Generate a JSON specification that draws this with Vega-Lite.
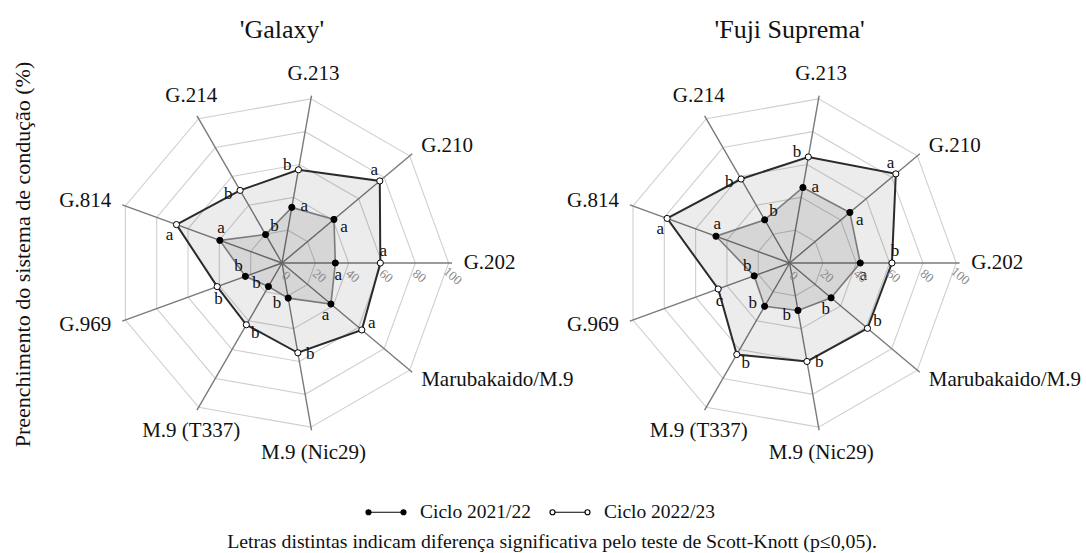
{
  "$schema": "https://vega.github.io/schema/vega-lite/v6.json",
  "padding": {"left": 11, "top": 17, "right": 5, "bottom": 5},
  "bounds": "flush",
  "background": "white",
  "data": {"values": [
    {"cultivar": "'Galaxy'", "ciclo": "Ciclo 2021/22", "cat": "G.202", "value": 32.0, "letter": "a"},
    {"cultivar": "'Galaxy'", "ciclo": "Ciclo 2021/22", "cat": "G.210", "value": 40.7, "letter": "a"},
    {"cultivar": "'Galaxy'", "ciclo": "Ciclo 2021/22", "cat": "G.213", "value": 33.9, "letter": "a"},
    {"cultivar": "'Galaxy'", "ciclo": "Ciclo 2021/22", "cat": "G.214", "value": 19.7, "letter": "b"},
    {"cultivar": "'Galaxy'", "ciclo": "Ciclo 2021/22", "cat": "G.814", "value": 39.7, "letter": "a"},
    {"cultivar": "'Galaxy'", "ciclo": "Ciclo 2021/22", "cat": "G.969", "value": 23.4, "letter": "b"},
    {"cultivar": "'Galaxy'", "ciclo": "Ciclo 2021/22", "cat": "M.9 (T337)", "value": 16.3, "letter": "b"},
    {"cultivar": "'Galaxy'", "ciclo": "Ciclo 2021/22", "cat": "M.9 (Nic29)", "value": 21.4, "letter": "b"},
    {"cultivar": "'Galaxy'", "ciclo": "Ciclo 2021/22", "cat": "Marubakaido/M.9", "value": 38.3, "letter": "a"},
    {"cultivar": "'Galaxy'", "ciclo": "Ciclo 2022/23", "cat": "G.202", "value": 59.0, "letter": "a"},
    {"cultivar": "'Galaxy'", "ciclo": "Ciclo 2022/23", "cat": "G.210", "value": 76.6, "letter": "a"},
    {"cultivar": "'Galaxy'", "ciclo": "Ciclo 2022/23", "cat": "G.213", "value": 56.8, "letter": "b"},
    {"cultivar": "'Galaxy'", "ciclo": "Ciclo 2022/23", "cat": "G.214", "value": 50.3, "letter": "b"},
    {"cultivar": "'Galaxy'", "ciclo": "Ciclo 2022/23", "cat": "G.814", "value": 67.4, "letter": "a"},
    {"cultivar": "'Galaxy'", "ciclo": "Ciclo 2022/23", "cat": "G.969", "value": 41.4, "letter": "b"},
    {"cultivar": "'Galaxy'", "ciclo": "Ciclo 2022/23", "cat": "M.9 (T337)", "value": 42.8, "letter": "b"},
    {"cultivar": "'Galaxy'", "ciclo": "Ciclo 2022/23", "cat": "M.9 (Nic29)", "value": 54.7, "letter": "b"},
    {"cultivar": "'Galaxy'", "ciclo": "Ciclo 2022/23", "cat": "Marubakaido/M.9", "value": 62.5, "letter": "a"},
    {"cultivar": "'Fuji Suprema'", "ciclo": "Ciclo 2021/22", "cat": "G.202", "value": 42.4, "letter": "a"},
    {"cultivar": "'Fuji Suprema'", "ciclo": "Ciclo 2021/22", "cat": "G.210", "value": 47.2, "letter": "a"},
    {"cultivar": "'Fuji Suprema'", "ciclo": "Ciclo 2021/22", "cat": "G.213", "value": 46.0, "letter": "a"},
    {"cultivar": "'Fuji Suprema'", "ciclo": "Ciclo 2021/22", "cat": "G.214", "value": 29.9, "letter": "b"},
    {"cultivar": "'Fuji Suprema'", "ciclo": "Ciclo 2021/22", "cat": "G.814", "value": 47.0, "letter": "a"},
    {"cultivar": "'Fuji Suprema'", "ciclo": "Ciclo 2021/22", "cat": "G.969", "value": 22.6, "letter": "b"},
    {"cultivar": "'Fuji Suprema'", "ciclo": "Ciclo 2021/22", "cat": "M.9 (T337)", "value": 30.0, "letter": "b"},
    {"cultivar": "'Fuji Suprema'", "ciclo": "Ciclo 2021/22", "cat": "M.9 (Nic29)", "value": 28.9, "letter": "b"},
    {"cultivar": "'Fuji Suprema'", "ciclo": "Ciclo 2021/22", "cat": "Marubakaido/M.9", "value": 32.5, "letter": "b"},
    {"cultivar": "'Fuji Suprema'", "ciclo": "Ciclo 2022/23", "cat": "G.202", "value": 61.4, "letter": "b"},
    {"cultivar": "'Fuji Suprema'", "ciclo": "Ciclo 2022/23", "cat": "G.210", "value": 83.2, "letter": "a"},
    {"cultivar": "'Fuji Suprema'", "ciclo": "Ciclo 2022/23", "cat": "G.213", "value": 64.6, "letter": "b"},
    {"cultivar": "'Fuji Suprema'", "ciclo": "Ciclo 2022/23", "cat": "G.214", "value": 58.2, "letter": "b"},
    {"cultivar": "'Fuji Suprema'", "ciclo": "Ciclo 2022/23", "cat": "G.814", "value": 78.2, "letter": "a"},
    {"cultivar": "'Fuji Suprema'", "ciclo": "Ciclo 2022/23", "cat": "G.969", "value": 45.6, "letter": "c"},
    {"cultivar": "'Fuji Suprema'", "ciclo": "Ciclo 2022/23", "cat": "M.9 (T337)", "value": 63.4, "letter": "b"},
    {"cultivar": "'Fuji Suprema'", "ciclo": "Ciclo 2022/23", "cat": "M.9 (Nic29)", "value": 60.0, "letter": "b"},
    {"cultivar": "'Fuji Suprema'", "ciclo": "Ciclo 2022/23", "cat": "Marubakaido/M.9", "value": 61.0, "letter": "b"}
  ]},
  "transform": [
    {"calculate": "indexof(['G.202','G.210','G.213','G.214','G.814','G.969','M.9 (T337)','M.9 (Nic29)','Marubakaido/M.9'], datum.cat)", "as": "idx"},
    {"calculate": "datum.idx * 40 * PI / 180", "as": "ang"}
  ],
  "title": {"text": "Letras distintas indicam diferença significativa pelo teste de Scott-Knott (p≤0,05).", "orient": "bottom", "anchor": "middle", "font": "Liberation Serif", "fontSize": 19.8, "fontWeight": "normal", "color": "#111", "offset": 10, "dx": 6},
  "facet": {"column": {"field": "cultivar", "type": "nominal", "sort": ["'Galaxy'", "'Fuji Suprema'"], "header": {"title": null, "labelFont": "Liberation Serif", "labelFontSize": 26, "labelColor": "#111", "labelPadding": 20}}},
  "spacing": 107.6,
  "spec": {
    "width": 400,
    "height": 400,
    "encoding": {
      "x": {"field": "px", "type": "quantitative", "scale": {"domain": [-120, 120], "nice": false, "zero": false}, "axis": null},
      "y": {"field": "py", "type": "quantitative", "scale": {"domain": [-120, 120], "nice": false, "zero": false}, "title": "Preenchimento do sistema de condução (%)", "axis": {"labels": false, "ticks": false, "domain": false, "grid": false, "titleFont": "Liberation Serif", "titleFontSize": 22, "titleFontWeight": "normal", "titlePadding": 48, "titleColor": "#111", "titleY": 191}}
    },
    "layer": [
      {
        "transform": [
          {"filter": "datum.ciclo == 'Ciclo 2021/22'"},
          {"calculate": "[20, 40, 60, 80, 100]", "as": "lv"},
          {"flatten": ["lv"]},
          {"calculate": "datum.lv * cos(datum.ang)", "as": "px"},
          {"calculate": "datum.lv * sin(datum.ang)", "as": "py"}
        ],
        "mark": {"type": "line", "interpolate": "linear-closed", "stroke": "#cfcfcf", "strokeWidth": 1.1},
        "encoding": {"detail": {"field": "lv", "type": "nominal"}, "order": {"field": "idx", "type": "quantitative"}}
      },
      {
        "transform": [
          {"filter": "datum.ciclo == 'Ciclo 2021/22'"},
          {"calculate": "0", "as": "px"},
          {"calculate": "0", "as": "py"},
          {"calculate": "102 * cos(datum.ang)", "as": "px2"},
          {"calculate": "102 * sin(datum.ang)", "as": "py2"}
        ],
        "mark": {"type": "rule", "stroke": "#7a7a7a", "strokeWidth": 1.4},
        "encoding": {"x2": {"field": "px2"}, "y2": {"field": "py2"}}
      },
      {
        "transform": [
          {"filter": "datum.ciclo == 'Ciclo 2022/23'"},
          {"calculate": "datum.value * cos(datum.ang)", "as": "px"},
          {"calculate": "datum.value * sin(datum.ang)", "as": "py"}
        ],
        "mark": {"type": "line", "interpolate": "linear-closed", "fill": "#000000", "fillOpacity": 0.075, "stroke": "#2b2b2b", "strokeWidth": 2},
        "encoding": {"order": {"field": "idx", "type": "quantitative"}}
      },
      {
        "transform": [
          {"filter": "datum.ciclo == 'Ciclo 2021/22'"},
          {"calculate": "datum.value * cos(datum.ang)", "as": "px"},
          {"calculate": "datum.value * sin(datum.ang)", "as": "py"}
        ],
        "mark": {"type": "line", "interpolate": "linear-closed", "fill": "#000000", "fillOpacity": 0.09, "stroke": "#7a7a7a", "strokeWidth": 1.6},
        "encoding": {"order": {"field": "idx", "type": "quantitative"}}
      },
      {
        "transform": [
          {"calculate": "datum.value * cos(datum.ang)", "as": "px"},
          {"calculate": "datum.value * sin(datum.ang)", "as": "py"}
        ],
        "mark": {"type": "point", "filled": true, "size": 38, "stroke": "#000000", "strokeWidth": 1, "opacity": 1},
        "encoding": {
          "fill": {"field": "ciclo", "type": "nominal", "scale": {"domain": ["Ciclo 2021/22", "Ciclo 2022/23"], "range": ["#000000", "#ffffff"]},
            "legend": {"title": null, "orient": "none", "legendX": 283, "legendY": 428, "direction": "horizontal",
              "symbolType": "M-1,0a0.125,0.125 0 1,0 0.25,0a0.125,0.125 0 1,0 -0.25,0M-0.75,0L0.75,0M0.75,0a0.125,0.125 0 1,0 0.25,0a0.125,0.125 0 1,0 -0.25,0",
              "symbolSize": 1600, "symbolStrokeColor": "#000000", "symbolStrokeWidth": 1.2, "symbolOpacity": 1,
              "labelFont": "Liberation Serif", "labelFontSize": 19.5, "labelColor": "#111", "labelOffset": 13, "columnPadding": 15}}
        }
      },
      {
        "transform": [
          {"calculate": "datum.ciclo == 'Ciclo 2022/23' ? 1 : -1", "as": "s"},
          {"calculate": "(datum.value + 1.8) * cos(datum.ang) - datum.s * 7.2 * sin(datum.ang)", "as": "px"},
          {"calculate": "(datum.value + 1.8) * sin(datum.ang) + datum.s * 7.2 * cos(datum.ang)", "as": "py"}
        ],
        "mark": {"type": "text", "font": "Liberation Serif", "fontSize": 17, "color": "#111", "align": "center", "baseline": "middle"},
        "encoding": {"text": {"field": "letter"}}
      },
      {
        "transform": [
          {"filter": "datum.ciclo == 'Ciclo 2021/22'"},
          {"calculate": "109 * cos(datum.ang)", "as": "px"},
          {"calculate": "109 * sin(datum.ang)", "as": "py"}
        ],
        "mark": {"type": "text", "font": "Liberation Serif", "fontSize": 21, "color": "#111",
          "align": {"expr": "abs(cos(datum.ang)) < 0.6 ? 'center' : (cos(datum.ang) > 0 ? 'left' : 'right')"},
          "baseline": {"expr": "sin(datum.ang) > 0.7 ? 'bottom' : (sin(datum.ang) < -0.7 ? 'top' : 'middle')"}},
        "encoding": {"text": {"field": "cat"}}
      },
      {
        "transform": [
          {"filter": "datum.ciclo == 'Ciclo 2021/22' && datum.cat == 'G.202'"},
          {"calculate": "[0, 20, 40, 60, 80, 100]", "as": "lv"},
          {"flatten": ["lv"]},
          {"calculate": "datum.lv + 2.4", "as": "px"},
          {"calculate": "-7.8", "as": "py"}
        ],
        "mark": {"type": "text", "font": "Liberation Serif", "fontSize": 13, "color": "#8a8a8a", "angle": 40, "align": "center", "baseline": "middle"},
        "encoding": {"text": {"field": "lv", "type": "quantitative"}}
      }
    ]
  },
  "config": {"view": {"stroke": null}}
}
